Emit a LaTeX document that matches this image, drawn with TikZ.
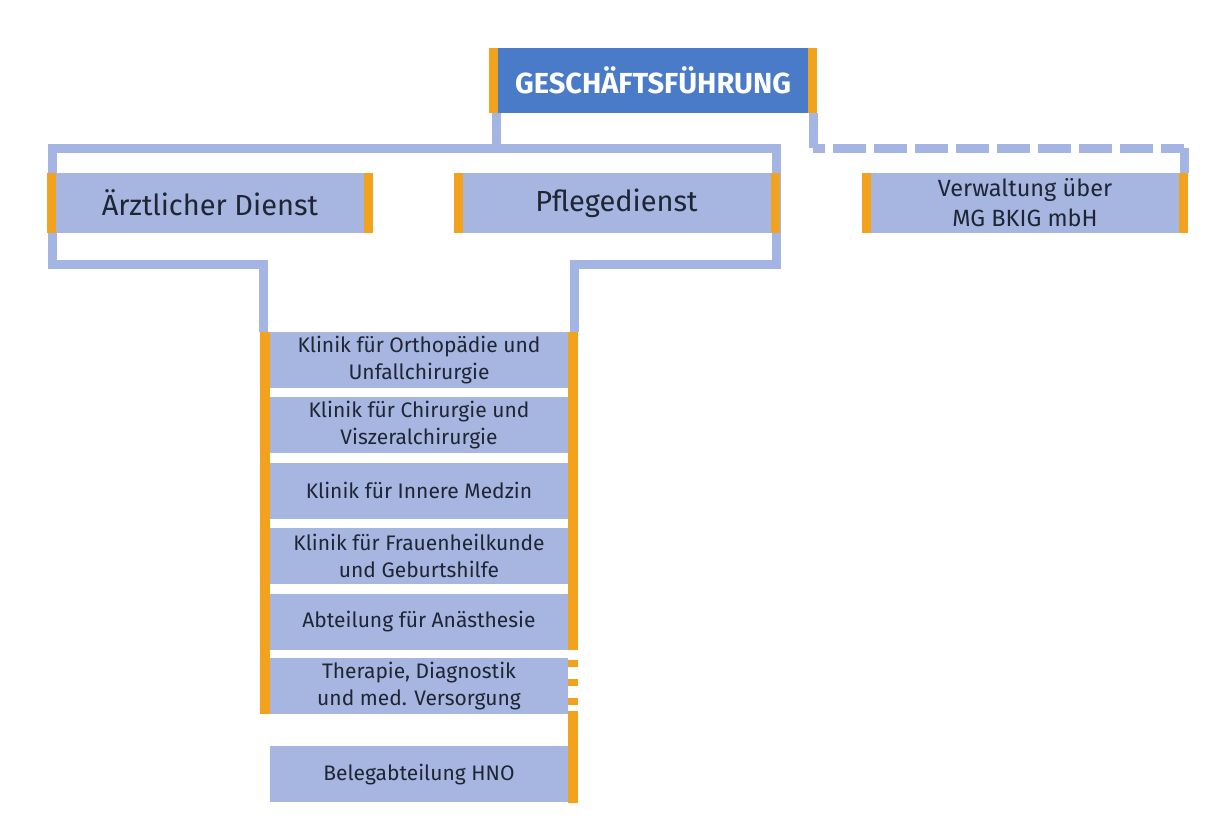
\documentclass[tikz,border=0pt]{standalone}
\usepackage{fontspec}
\setmainfont{Fira Sans}
\usepackage{tikz}
\usetikzlibrary{positioning,backgrounds}
\usepackage{xcolor}
\definecolor{fdark}{HTML}{4A7BC9}
\definecolor{flight}{HTML}{A7B5E1}
\definecolor{fline}{HTML}{A5B5E3}
\definecolor{forange}{HTML}{F2A21C}
\definecolor{ftext}{HTML}{1E2633}
\tikzset{
  barred/.style  = {path picture={
      \fill[forange] (path picture bounding box.north west) rectangle ([xshift=9pt]path picture bounding box.south west);
      \fill[forange] (path picture bounding box.north east) rectangle ([xshift=-9pt]path picture bounding box.south east);}},
  headbox/.style = {fill=fdark, barred, text=white, inner sep=0pt, minimum width=328pt,
                    minimum height=65pt, font=\fontsize{29}{34}\selectfont\bfseries},
  dept/.style    = {fill=flight, barred, text=ftext, inner sep=0pt, minimum width=326pt,
                    minimum height=60pt, align=center},
  clinic/.style  = {fill=flight, text=ftext, inner sep=0pt, minimum width=298pt,
                    minimum height=56pt, align=center, font=\fontsize{21}{27}\selectfont},
  link/.style    = {draw=fline, line width=9pt, line join=miter},
  obar/.style    = {draw=forange, line width=10pt},
}
\begin{document}
\begin{tikzpicture}[x=1pt,y=-1pt,node distance=9pt]
\useasboundingbox (0,0) rectangle (1215,836);
% management and the three divisions
\node[headbox] (gf) at (653,80.5) {GESCHÄFTSFÜHRUNG};
\node[dept,font=\fontsize{29}{34}\selectfont] (aerzt) at (210,203) {Ärztlicher Dienst};
\node[dept,font=\fontsize{29}{34}\selectfont] (pflege) at (616.5,203) {Pflegedienst};
\node[dept,font=\fontsize{23.5}{30}\selectfont] (verw) at (1025,203) {Verwaltung über\\MG BKIG mbH};
% clinic column
\node[clinic] (k1) at (419,360) {Klinik für Orthopädie und\\Unfallchirurgie};
\node[clinic,below=of k1] (k2) {Klinik für Chirurgie und\\Viszeralchirurgie};
\node[clinic,below=of k2] (k3) {Klinik für Innere Medzin};
\node[clinic,below=of k3] (k4) {Klinik für Frauenheilkunde\\und Geburtshilfe};
\node[clinic,below=of k4] (k5) {Abteilung für Anästhesie};
\node[clinic,below=8pt of k5] (k6) {Therapie, Diagnostik\\und med. Versorgung};
\node[clinic,below=32pt of k6] (k7) {Belegabteilung HNO};
\coordinate (busL) at (52,148);
\coordinate (busR) at (776,148);
\coordinate (kbus) at (419,264);
\begin{scope}[on background layer]
\draw[link,line cap=rect] (busL) -- (busR);
\draw[link] ([xshift=8pt]gf.south west) -- ([xshift=8pt]gf.south west |- busL);
\draw[link] (busL) -- (busL |- kbus) -| ([xshift=-6pt]k1.north west);
\draw[link] (busR) -- (busR |- kbus) -| ([xshift=6pt]k1.north east);
% dashed line to the administration
\draw[link] ([xshift=-4pt]gf.south east) -- ([xshift=-4pt]gf.south east |- busL) coordinate (dashA);
\draw[link,dash pattern=on 33pt off 8pt,dash phase=21pt] (dashA) -- ([xshift=-4pt]verw.north east |- busL) coordinate (dashB);
\draw[link] (dashB) -- ([xshift=-4pt]verw.north east);
\end{scope}
% orange side bars of the column
\draw[obar] ([xshift=-5pt]k1.north west) -- ([xshift=-5pt]k6.south west);
\draw[obar] ([xshift=5pt]k1.north east) -- ([xshift=5pt]k5.south east);
\draw[obar,dash pattern=on 7pt off 12pt] ([xshift=5pt,yshift=-2pt]k6.north east) -- ([xshift=5pt,yshift=-8pt]k6.south east);
\draw[obar] ([xshift=5pt,yshift=3pt]k6.south east) -- ([xshift=5pt]k7.south east);
\end{tikzpicture}
\end{document}
